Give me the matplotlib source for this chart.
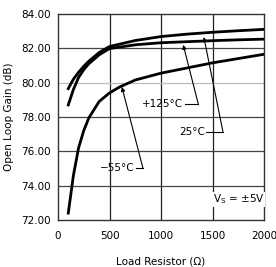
import matplotlib.pyplot as plt

# Load resistor values (ohms) and open loop gain (dB)
r_25 = [100, 150, 200, 250, 300, 400, 500, 750, 1000, 1250, 1500, 1750, 2000]
gain_25 = [79.65, 80.2, 80.6, 80.95, 81.25, 81.75, 82.1, 82.45, 82.68, 82.82, 82.93, 83.02, 83.1]

r_125 = [100, 150, 200, 250, 300, 400, 500, 750, 1000, 1250, 1500, 1750, 2000]
gain_125 = [78.7, 79.6, 80.3, 80.75, 81.1, 81.62, 81.98, 82.2, 82.32, 82.38, 82.44, 82.49, 82.53]

r_m55 = [100, 150, 200, 250, 300, 400, 500, 600, 750, 1000, 1250, 1500, 1750, 2000]
gain_m55 = [72.4, 74.6, 76.2, 77.2, 77.95, 78.9, 79.4, 79.75, 80.15, 80.55, 80.85, 81.15, 81.4, 81.65]

x_ticks = [0, 500, 1000, 1500, 2000]
y_ticks = [72, 74, 76, 78, 80, 82, 84]

plt.rcParams['font.family'] = 'DejaVu Sans'
fig = plt.figure(figsize=(2.76, 2.67), dpi=100)
ax = fig.add_axes([0.210, 0.176, 0.747, 0.772])

# grid lines
for x in x_ticks[1:-1]:
    ax.axvline(x, color='#222222', lw=0.9, zorder=1)
for y in y_ticks[1:-1]:
    ax.axhline(y, color='#bbbbbb' if y == 80 else '#444444', lw=0.9, zorder=1)

ax.plot(r_25, gain_25, color='black', lw=2, zorder=3)
ax.plot(r_125, gain_125, color='black', lw=2, zorder=3)
ax.plot(r_m55, gain_m55, color='black', lw=2, zorder=3)

ax.set_xlim(0, 2000)
ax.set_ylim(72, 84)
ax.set_xticks(x_ticks)
ax.set_yticks(y_ticks)
ax.set_yticklabels(['%.2f' % v for v in y_ticks])
ax.tick_params(length=0, labelsize=7.5)
ax.tick_params(axis='x', pad=8)
ax.tick_params(axis='y', pad=5)
for s in ax.spines.values():
    s.set_color('#333333')
    s.set_linewidth(1)

ax.set_xlabel('Load Resistor (\u03a9)', fontsize=7.5, labelpad=11)
ax.set_ylabel('Open Loop Gain (dB)', fontsize=7.5, labelpad=5)

# annotations with leader lines
arrow = dict(arrowstyle='-|>', color='black', lw=0.8, mutation_scale=6, shrinkA=0, shrinkB=0)
ax.annotate('', xy=(1215, 82.2), xytext=(1360, 78.78), arrowprops=arrow)
ax.plot([1230, 1360], [78.78, 78.78], color='black', lw=0.8)
ax.text(1215, 78.78, '+125\u00b0C', fontsize=7.5, ha='right', va='center')

ax.annotate('', xy=(1415, 82.65), xytext=(1600, 77.15), arrowprops=arrow)
ax.plot([1440, 1600], [77.15, 77.15], color='black', lw=0.8)
ax.text(1425, 77.15, '25\u00b0C', fontsize=7.5, ha='right', va='center')

ax.annotate('', xy=(620, 79.75), xytext=(825, 75.0), arrowprops=arrow)
ax.plot([755, 825], [75.0, 75.0], color='black', lw=0.8)
ax.text(745, 75.0, '\u221255\u00b0C', fontsize=7.5, ha='right', va='center')

ax.text(1500, 73.2, 'V$_\\mathregular{S}$ = \u00b15V', fontsize=7.5, ha='left', va='center',
        bbox=dict(facecolor='white', edgecolor='none', pad=0.5), zorder=4)

fig.savefig('out.png', dpi=100)
